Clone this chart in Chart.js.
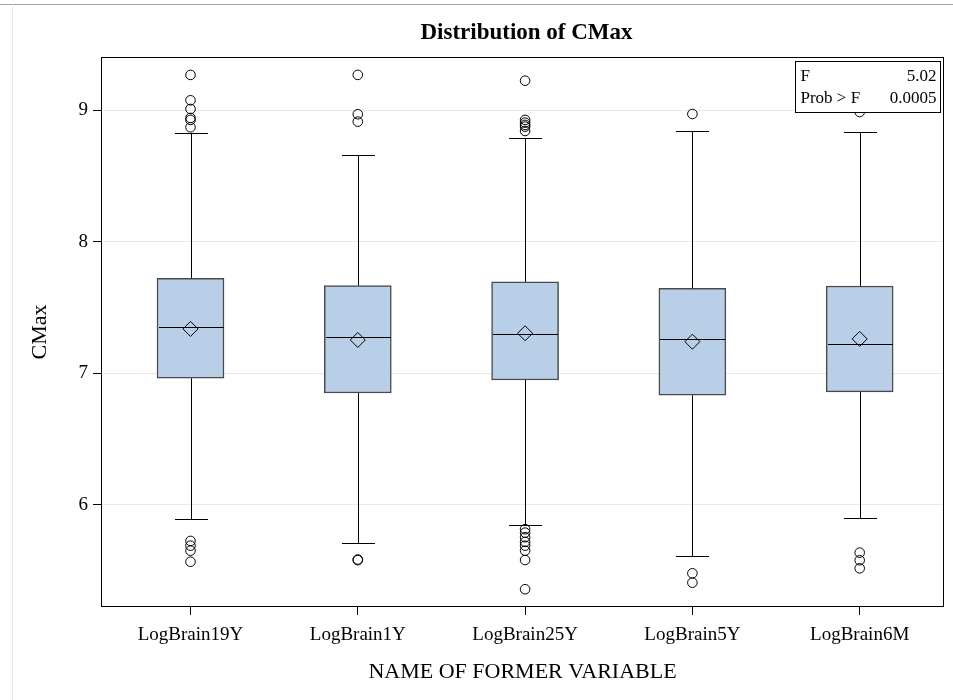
<!DOCTYPE html>
<html>
<head>
<meta charset="utf-8">
<script src="https://cdn.jsdelivr.net/npm/chart.js@4/dist/chart.umd.min.js"></script>
<style>
  html, body { margin: 0; padding: 0; background: #ffffff; }
  #wrap { position: relative; width: 953px; height: 700px; }
  #topline { position: absolute; left: 0; top: 4px; width: 953px; height: 0; border-top: 1px solid #a0a0a0; }
  #leftline { position: absolute; left: 12px; top: 4px; width: 0; height: 696px; border-left: 1px solid #e6e6e6; }
  canvas { position: absolute; left: 0; top: 0; }
</style>
</head>
<body>
<div id="wrap">
  <div id="topline"></div>
  <div id="leftline"></div>
  <canvas id="c" width="953" height="700"></canvas>
</div>
<script>
// ---- data ----
const categories = ['LogBrain19Y', 'LogBrain1Y', 'LogBrain25Y', 'LogBrain5Y', 'LogBrain6M'];
const q1Values = [6.962, 6.850, 6.949, 6.833, 6.858];
const q3Values = [7.722, 7.666, 7.694, 7.646, 7.663];
const medianValues = [7.354, 7.276, 7.299, 7.263, 7.220];
const meanValues = [7.337, 7.253, 7.304, 7.240, 7.261];
const whiskerLow = [5.895, 5.708, 5.850, 5.612, 5.898];
const whiskerHigh = [8.826, 8.661, 8.790, 8.841, 8.836];
const outliers19Y = [9.267, 9.074, 9.008, 8.940, 8.925, 8.869, 5.726, 5.690, 5.652, 5.568];
const outliers1Y = [9.267, 8.968, 8.912, 5.585, 5.580];
const outliers25Y = [9.223, 8.925, 8.904, 8.887, 8.874, 8.841, 5.815, 5.789, 5.754, 5.718, 5.690, 5.652, 5.581, 5.359];
const outliers5Y = [8.970, 5.480, 5.409];
const outliers6M = [8.985, 5.637, 5.579, 5.518];
const outlierLists = [outliers19Y, outliers1Y, outliers25Y, outliers5Y, outliers6M];
const yTickValues = [6, 7, 8, 9];
const statLabels = ['F', 'Prob > F'];
const statValues = ['5.02', '0.0005'];
const chartTitle = 'Distribution of CMax';
const xTitle = 'NAME OF FORMER VARIABLE';
const yTitle = 'CMax';

// ---- build datasets ----
const boxData = categories.map((c, i) => ({ x: i, y: [q1Values[i], q3Values[i]] }));
const meanData = categories.map((c, i) => ({ x: i, y: meanValues[i] }));
const outlierData = [];
outlierLists.forEach((list, i) => list.forEach(v => outlierData.push({ x: i, y: v })));

const SERIF = '"Liberation Serif", "Times New Roman", serif';

const boxPlugin = {
  id: 'boxParts',
  afterDatasetDraw(chart, args) {
    if (args.index !== 0) return;
    const ctx = chart.ctx;
    const xs = chart.scales.x, ys = chart.scales.y;
    ctx.save();
    ctx.strokeStyle = '#000000';
    ctx.lineWidth = 1;
    categories.forEach((c, i) => {
      const cx = Math.round(xs.getPixelForValue(i)) + 0.5;
      const half = 33.5, capHalf = 16.5;
      const yMed = Math.round(ys.getPixelForValue(medianValues[i])) + 0.5;
      const yQ1 = ys.getPixelForValue(q1Values[i]);
      const yQ3 = ys.getPixelForValue(q3Values[i]);
      const yLo = Math.round(ys.getPixelForValue(whiskerLow[i])) + 0.5;
      const yHi = Math.round(ys.getPixelForValue(whiskerHigh[i])) + 0.5;
      ctx.beginPath();
      ctx.moveTo(cx - half + 1, yMed); ctx.lineTo(cx + half - 1, yMed);
      ctx.moveTo(cx, yQ3); ctx.lineTo(cx, yHi);
      ctx.moveTo(cx - capHalf, yHi); ctx.lineTo(cx + capHalf, yHi);
      ctx.moveTo(cx, yQ1); ctx.lineTo(cx, yLo);
      ctx.moveTo(cx - capHalf, yLo); ctx.lineTo(cx + capHalf, yLo);
      ctx.stroke();
    });
    ctx.restore();
  },
  afterDraw(chart) {
    const ctx = chart.ctx;
    const a = chart.chartArea;
    ctx.save();
    ctx.strokeStyle = '#000000';
    ctx.lineWidth = 1;
    ctx.strokeRect(Math.round(a.left) + 0.5, Math.round(a.top) + 0.5,
                   Math.round(a.right - a.left) - 1, Math.round(a.bottom - a.top) - 1);
    ctx.fillStyle = '#000000';
    ctx.font = 'bold 23px ' + SERIF;
    ctx.textAlign = 'center';
    ctx.textBaseline = 'middle';
    ctx.fillText(chartTitle, (a.left + a.right) / 2 + 4, 33);
    const bx = 795.5, by = 61.5, bw = 145, bh = 51;
    ctx.fillStyle = '#ffffff';
    ctx.fillRect(bx, by, bw, bh);
    ctx.strokeRect(bx, by, bw, bh);
    ctx.fillStyle = '#000000';
    ctx.font = '17px ' + SERIF;
    ctx.textBaseline = 'alphabetic';
    statLabels.forEach((lab, k) => {
      const yy = by + 19 + k * 22;
      ctx.textAlign = 'left';
      ctx.fillText(lab, bx + 5, yy);
      ctx.textAlign = 'right';
      ctx.fillText(statValues[k], bx + bw - 4, yy);
    });
    ctx.restore();
  }
};

new Chart(document.getElementById('c'), {
  type: 'bar',
  data: {
    datasets: [
      {
        type: 'bar',
        label: 'box',
        data: boxData,
        order: 3,
        backgroundColor: 'rgb(185,207,231)',
        borderColor: '#4a4a4a',
        borderWidth: 1.5,
        borderSkipped: false,
        barThickness: 67
      },
      {
        type: 'scatter',
        label: 'outliers',
        data: outlierData,
        order: 2,
        showLine: false,
        pointStyle: 'circle',
        pointRadius: 4.8,
        pointBorderWidth: 1,
        pointBorderColor: '#000000',
        pointBackgroundColor: 'rgba(255,255,255,0)'
      },
      {
        type: 'scatter',
        label: 'mean',
        data: meanData,
        order: 1,
        showLine: false,
        pointStyle: 'rectRot',
        pointRadius: 7.5,
        pointBorderWidth: 1,
        pointBorderColor: '#000000',
        pointBackgroundColor: 'rgba(255,255,255,0)'
      }
    ]
  },
  options: {
    responsive: false,
    animation: false,
    events: [],
    layout: { padding: { top: 57, right: 9, left: 0, bottom: 0 } },
    plugins: { legend: { display: false }, tooltip: { enabled: false }, title: { display: false } },
    scales: {
      x: {
        type: 'linear',
        offset: false,
        min: -0.535,
        max: 4.504,
        afterFit(scale) { scale.height = 93; },
        afterBuildTicks(scale) { scale.ticks = categories.map((c, i) => ({ value: i })); },
        ticks: {
          color: '#000000',
          font: { family: SERIF, size: 19 },
          padding: 9,
          maxRotation: 0,
          autoSkip: false,
          callback: (v) => categories[v]
        },
        grid: { display: true, drawOnChartArea: false, offset: false, tickLength: 8, tickColor: '#000000' },
        border: { display: false },
        title: { display: true, text: xTitle, color: '#000000', font: { family: SERIF, size: 22 }, padding: { top: 0, bottom: 15 } }
      },
      y: {
        type: 'linear',
        min: 5.224,
        max: 9.403,
        afterFit(scale) { scale.width = 101; },
        afterBuildTicks(scale) { scale.ticks = yTickValues.map(v => ({ value: v })); },
        ticks: {
          color: '#000000',
          font: { family: SERIF, size: 19 },
          padding: 5,
          callback: (v) => String(v)
        },
        grid: { color: '#e8e8e8', tickColor: '#000000', tickLength: 8, lineWidth: 1 },
        border: { display: false },
        title: { display: true, text: yTitle, color: '#000000', font: { family: SERIF, size: 22 }, padding: { top: 27, bottom: 0 } }
      }
    }
  },
  plugins: [boxPlugin]
});
</script>
</body>
</html>
